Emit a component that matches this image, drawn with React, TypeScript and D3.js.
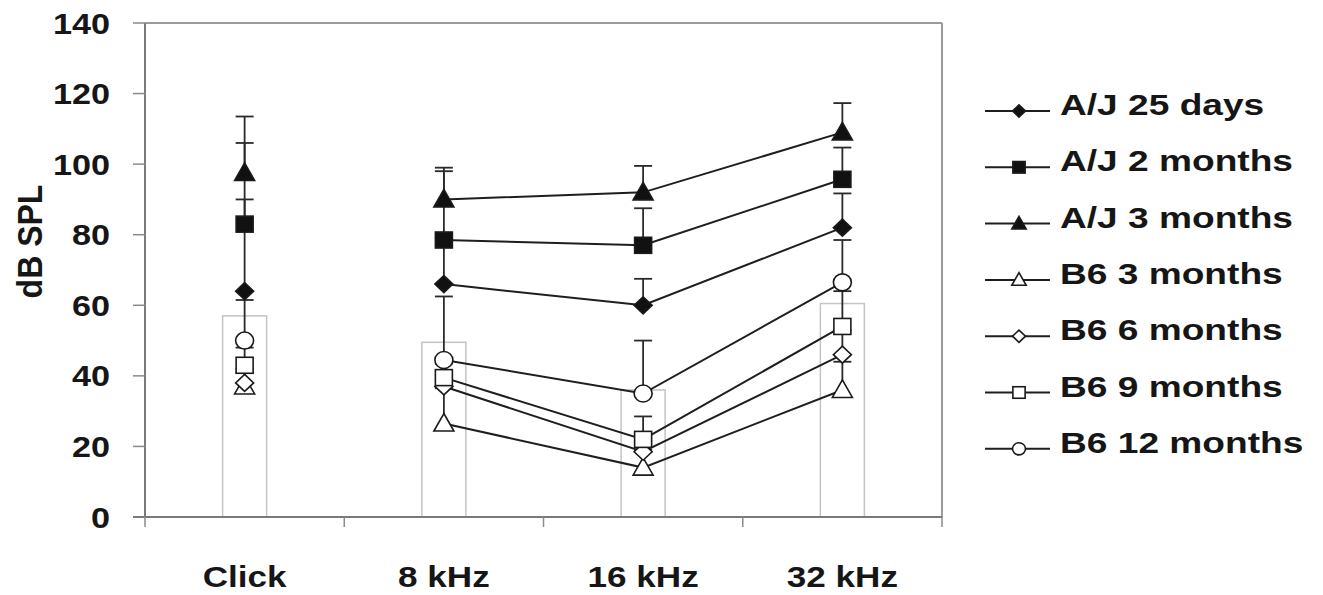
import React from "react";
import * as d3 from "d3";

const categories = ["Click", "8 kHz", "16 kHz", "32 kHz"];
const yTicks = [0, 20, 40, 60, 80, 100, 120, 140];
const barValues = [57, 49.5, 36, 60.5];

const seriesNames = [
  "A/J 25 days",
  "A/J 2 months",
  "A/J 3 months",
  "B6 3 months",
  "B6 6 months",
  "B6 9 months",
  "B6 12 months",
];
const seriesShapes = ["diamond", "square", "triangle", "triangle", "diamond", "square", "circle"];
const seriesFilled = [true, true, true, false, false, false, false];

const aj25days = [64, 66, 60, 82];
const aj2months = [83, 78.5, 77, 95.7];
const aj3months = [97.5, 90, 92, 109];
const b6m3 = [37, 26.5, 14, 36];
const b6m6 = [38, 37, 18.5, 46];
const b6m9 = [43, 39.5, 22, 54];
const b6m12 = [50, 44.5, 35, 66.5];

const aj25daysErr = [26, 13, 7.5, 9.7];
const aj2monthsErr = [23, 19.5, 10.5, 9];
const aj3monthsErr = [16, 9, 7.5, 8.3];
const b6m3Err = [4, 10, 5, 8];
const b6m6Err = [4, 2, 3, 7];
const b6m9Err = [5, 4, 6.5, 10];
const b6m12Err = [11.5, 18, 15, 12];

const seriesValues = [aj25days, aj2months, aj3months, b6m3, b6m6, b6m9, b6m12];
const seriesErrs = [aj25daysErr, aj2monthsErr, aj3monthsErr, b6m3Err, b6m6Err, b6m9Err, b6m12Err];

const W = 1323;
const H = 595;
const plot = { left: 145, right: 942, top: 23, bottom: 517 };
const FONT = "'Liberation Sans', Arial, sans-serif";
const INK = "#161616";

function Marker({ shape, filled, x, y, s }: { shape: string; filled: boolean; x: number; y: number; s: number }) {
  const fill = filled ? "#111" : "#fff";
  const stroke = "#1a1a1a";
  const sw = 1.6;
  if (shape === "diamond") {
    const w = 9 * s, h = 8.5 * s;
    return <polygon points={`${x},${y - h} ${x + w},${y} ${x},${y + h} ${x - w},${y}`} fill={fill} stroke={stroke} strokeWidth={sw} />;
  }
  if (shape === "square") {
    const w = 17 * s, h = 16 * s;
    return <rect x={x - w / 2} y={y - h / 2} width={w} height={h} fill={fill} stroke={stroke} strokeWidth={sw} />;
  }
  if (shape === "triangle") {
    const w = 10 * s, t = 10 * s, b = 7.5 * s;
    return <polygon points={`${x},${y - t} ${x + w},${y + b} ${x - w},${y + b}`} fill={fill} stroke={stroke} strokeWidth={sw} />;
  }
  return <ellipse cx={x} cy={y} rx={9 * s} ry={8.5 * s} fill={fill} stroke={stroke} strokeWidth={sw} />;
}

function SText({ x, y, sx, size, anchor, children }: any) {
  return (
    <text
      transform={`translate(${x},${y}) scale(${sx},1)`}
      textAnchor={anchor}
      fontFamily={FONT}
      fontWeight="bold"
      fontSize={size}
      fill={INK}
    >
      {children}
    </text>
  );
}

export default function App() {
  const x = d3.scaleBand<string>().domain(categories).range([plot.left, plot.right]).paddingInner(0).paddingOuter(0);
  const y = d3.scaleLinear().domain([0, 140]).range([plot.bottom, plot.top]);
  const cx = (c: string) => (x(c) as number) + x.bandwidth() / 2;
  const barW = 44;

  const line = d3
    .line<[number, number]>()
    .x((d) => d[0])
    .y((d) => d[1]);

  const boundaries = [...categories.map((c) => x(c) as number), plot.right];

  const legendX = 1060;
  const legendY0 = 115;
  const legendDy = 56.3;

  return (
    <svg width={W} height={H} style={{ position: "absolute", left: 0, top: 0, background: "#fff" }}>
      <rect x={0} y={0} width={W} height={H} fill="#fff" />
      {/* plot frame */}
      <line x1={plot.left} x2={plot.right} y1={plot.top} y2={plot.top} stroke="#9a9a9a" strokeWidth={2} />
      <line x1={plot.right} x2={plot.right} y1={plot.top} y2={plot.bottom} stroke="#9a9a9a" strokeWidth={2} />

      {/* bars */}
      {categories.map((c, i) => (
        <rect
          key={"bar" + c}
          x={cx(c) - barW / 2}
          y={y(barValues[i])}
          width={barW}
          height={plot.bottom - y(barValues[i])}
          fill="none"
          stroke="#c4c4c4"
          strokeWidth={1.5}
        />
      ))}

      {/* y axis */}
      <line x1={plot.left} x2={plot.left} y1={plot.top} y2={plot.bottom} stroke="#7a7a7a" strokeWidth={2} />
      {yTicks.map((t) => (
        <g key={"yt" + t}>
          <line x1={plot.left - 12} x2={plot.left} y1={y(t)} y2={y(t)} stroke="#8a8a8a" strokeWidth={1.5} />
          <SText x={110} y={y(t) + 10.5} sx={1.14} size={30} anchor="end">
            {t}
          </SText>
        </g>
      ))}

      {/* x axis */}
      <line x1={plot.left - 12} x2={plot.right} y1={plot.bottom} y2={plot.bottom} stroke="#7a7a7a" strokeWidth={2} />
      {boundaries.map((b, i) => (
        <line key={"xt" + i} x1={b} x2={b} y1={plot.bottom} y2={plot.bottom + 10} stroke="#8a8a8a" strokeWidth={1.5} />
      ))}
      {categories.map((c) => (
        <SText key={"xl" + c} x={cx(c)} y={587} sx={1.17} size={30} anchor="middle">
          {c}
        </SText>
      ))}

      {/* y title */}
      <text
        transform={`translate(42,241.5) scale(1.12,1) rotate(-90)`}
        textAnchor="middle"
        fontFamily={FONT}
        fontWeight="bold"
        fontSize={32}
        fill={INK}
      >
        dB SPL
      </text>

      {/* error bars */}
      {seriesValues.map((vals, si) =>
        vals.map((v, i) => {
          const px = cx(categories[i]);
          const top = y(v + seriesErrs[si][i]);
          return (
            <g key={`eb${si}-${i}`} stroke="#2a2a2a" strokeWidth={1.8}>
              <line x1={px} x2={px} y1={y(v)} y2={top} />
              <line x1={px - 9} x2={px + 9} y1={top} y2={top} />
            </g>
          );
        })
      )}

      {/* lines (8, 16, 32 kHz connected) */}
      {seriesValues.map((vals, si) => {
        const pts: [number, number][] = vals.slice(1).map((v, j) => [cx(categories[j + 1]), y(v)]);
        return <path key={"ln" + si} d={line(pts) as string} fill="none" stroke="#1e1e1e" strokeWidth={2} />;
      })}

      {/* markers */}
      {seriesValues.map((vals, si) =>
        vals.map((v, i) => (
          <Marker
            key={`mk${si}-${i}`}
            shape={seriesShapes[si]}
            filled={seriesFilled[si]}
            x={cx(categories[i])}
            y={y(v)}
            s={1}
          />
        ))
      )}

      {/* legend */}
      {seriesNames.map((name, si) => {
        const by = legendY0 + si * legendDy;
        const my = by - 4;
        return (
          <g key={"lg" + si}>
            <line x1={985} x2={1050} y1={my} y2={my} stroke="#1e1e1e" strokeWidth={2} />
            <Marker shape={seriesShapes[si]} filled={seriesFilled[si]} x={1019} y={my} s={0.72} />
            <SText x={legendX} y={by} sx={1.28} size={29} anchor="start">
              {name}
            </SText>
          </g>
        );
      })}
    </svg>
  );
}
